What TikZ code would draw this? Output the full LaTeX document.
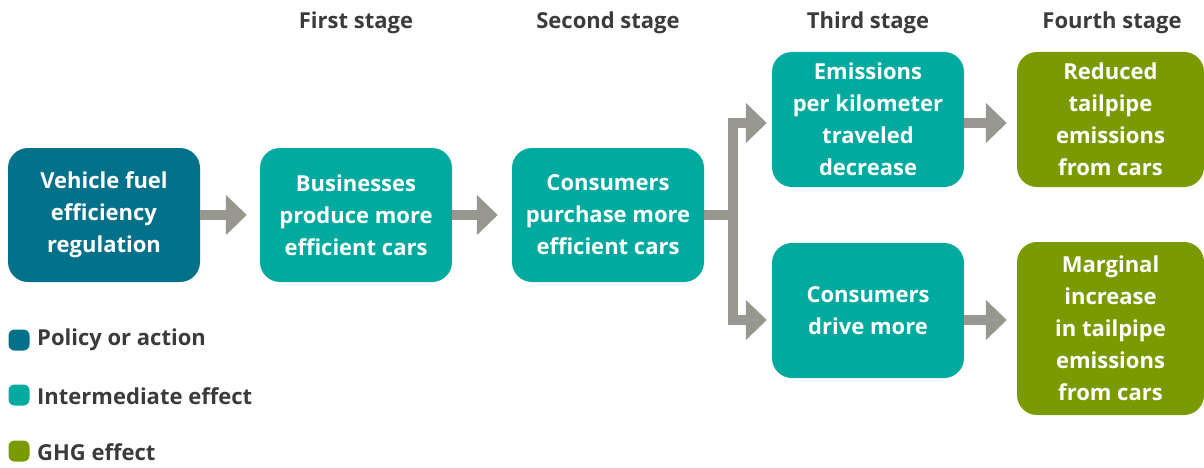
\documentclass[tikz,border=0pt]{standalone}
\usepackage{fontspec}
\setmainfont{Open Sans}
\usetikzlibrary{arrows.meta}

\definecolor{policy}{HTML}{03718A}
\definecolor{inter}{HTML}{00AA9E}
\definecolor{ghg}{HTML}{7A9A01}
\definecolor{arrowgray}{HTML}{979790}
\definecolor{headtext}{HTML}{3B3B3B}

\tikzset{
  x=1pt, y=-1pt,
  boxtext/.style={font=\fontsize{22}{32}\selectfont\bfseries},
  stagebox/.style={boxtext, rounded corners=20pt, text=white, align=center,
    minimum width=192pt, minimum height=134pt, inner sep=0pt},
  policybox/.style={stagebox, fill=policy},
  interbox/.style={stagebox, fill=inter},
  ghgbox/.style={stagebox, fill=ghg, minimum width=187pt},
  header/.style={boxtext, text=headtext},
  legendtext/.style={boxtext, text=headtext, anchor=west, inner sep=0pt},
  legendkey/.style={rounded corners=6pt, minimum size=21pt, inner sep=0pt},
  flow/.style={draw=arrowgray, line width=10pt,
    -{Triangle[length=21pt, width=39pt]}},
  trunk/.style={draw=arrowgray, line width=10pt},
}

\begin{document}
\begin{tikzpicture}
  \useasboundingbox (0,0) rectangle (1204,468);

  % stage headings
  \node[header] (h1) at (356,23) {First stage};
  \node[header] (h2) at (608,23) {Second stage};
  \node[header] (h3) at (868,23) {Third stage};
  \node[header] (h4) at (1112,23) {Fourth stage};

  % causal chain
  \node[policybox] (b1) at (104,215) {Vehicle fuel\\efficiency\\regulation};
  \node[interbox]  (b2) at (356,215) {Businesses\\produce more\\efficient cars};
  \node[interbox]  (b3) at (608,215) {Consumers\\purchase more\\efficient cars};
  \node[interbox, minimum height=135pt] (b4) at (868,119.5)
    {Emissions\\per kilometer\\traveled\\decrease};
  \node[interbox, minimum height=135pt] (b5) at (868,310.5)
    {Consumers\\drive more};
  \node[ghgbox, minimum height=135pt] (b6) at (1110.5,119.5)
    {Reduced\\tailpipe\\emissions\\from cars};
  \node[ghgbox, minimum height=173pt] (b7) at (1110.5,328.5)
    {Marginal\\increase\\in tailpipe\\emissions\\from cars};

  % connectors
  \draw[flow, shorten >=13pt] (b1) -- (b2);
  \draw[flow, shorten >=14pt] (b2) -- (b3);
  \coordinate (split) at ([xshift=29pt]b3.east);
  \draw[trunk] (b3.east) -- (split);
  \draw[trunk] ([yshift=97pt]split) -- ([yshift=-110pt]split);
  \draw[flow, shorten >=5pt] ([yshift=50pt]split) |- ([yshift=-3.5pt]b4.west);
  \draw[flow, shorten >=5pt] ([yshift=-50pt]split) |- ([yshift=-9.5pt]b5.west);
  \draw[flow, shorten >=10pt] ([yshift=-3.5pt]b4.east) -- ([yshift=-3.5pt]b6.west);
  \draw[flow, shorten >=10pt] ([yshift=-9.5pt]b5.east) -- ([yshift=8.5pt]b7.west);

  % legend
  \node[legendkey, fill=policy] (k1) at (19,340) {};
  \node[legendtext] (l1) at (37,340) {Policy or action};
  \node[legendkey, fill=inter] (k2) at (19,395) {};
  \node[legendtext] (l2) at (37,396) {Intermediate effect};
  \node[legendkey, fill=ghg] (k3) at (19,451) {};
  \node[legendtext] (l3) at (37,452) {GHG effect};
\end{tikzpicture}
\end{document}
